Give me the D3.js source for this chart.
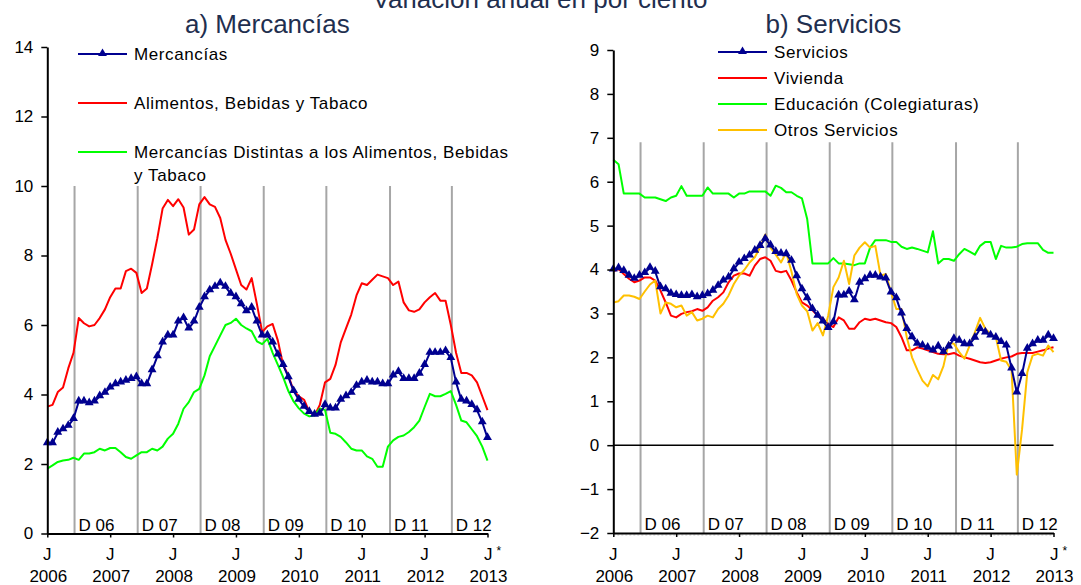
<html>
<head>
  <meta charset="utf-8">
  <title>Variación anual en por ciento</title>
  <script src="https://cdn.jsdelivr.net/npm/d3@7"></script>
  <style>
    body { margin: 0; background: #fff; }
    text { font-family: "Liberation Sans", Arial, sans-serif; }
  </style>
</head>
<body>
<script>
// Etiquetas del eje x (enero de cada año) y separadores verticales
const mesLabels = ["J", "J", "J", "J", "J", "J", "J", "J *"];
const anioLabels = ["2006", "2007", "2008", "2009", "2010", "2011", "2012", "2013"];
const sepLabels = ["D 06", "D 07", "D 08", "D 09", "D 10", "D 11", "D 12"];
const sepMeses = [5.2, 17.25, 29.25, 41.3, 53.25, 65.4, 77.2]; // meses desde ene-2006

// a) Mercancías, ene-2006 a ene-2013 (85 meses)
const mercancias = [
  2.6, 2.6, 2.9, 3.0, 3.1, 3.3, 3.8, 3.8, 3.75, 3.8, 3.95, 4.05,
  4.2, 4.3, 4.35, 4.4, 4.45, 4.5, 4.3, 4.3, 4.7, 5.1, 5.5, 5.7,
  5.7, 6.1, 6.2, 5.9, 6.1, 6.5, 6.8, 7.0, 7.1, 7.2, 7.1, 6.9,
  6.8, 6.6, 6.4, 6.5, 6.1, 5.7, 5.7, 5.5, 5.15, 4.85, 4.5, 4.1,
  3.85, 3.65, 3.5, 3.42, 3.45, 3.7, 3.6, 3.6, 3.85, 3.95, 4.05, 4.25,
  4.35, 4.4, 4.35, 4.35, 4.3, 4.3, 4.55, 4.65, 4.45, 4.45, 4.45, 4.6,
  4.85, 5.2, 5.2, 5.2, 5.25, 5.05, 4.35, 3.85, 3.8, 3.7, 3.55, 3.2,
  2.75
];
const alimentos = [
  3.65, 3.7, 4.07, 4.2, 4.75, 5.2, 6.2, 6.05, 5.96, 6.0, 6.2, 6.45,
  6.8, 7.05, 7.05, 7.55, 7.62, 7.5, 6.92, 7.05, 7.75, 8.5, 9.35, 9.6,
  9.42, 9.62, 9.38, 8.6, 8.75, 9.47, 9.68, 9.47, 9.4, 9.08, 8.45, 8.05,
  7.6, 7.15, 7.02, 7.35, 6.6, 5.8, 5.96, 6.03, 5.55, 4.85, 4.55, 4.1,
  3.95, 3.85, 3.5, 3.4, 3.7, 4.35, 4.45, 4.85, 5.5, 5.9, 6.3, 6.85,
  7.2, 7.15, 7.3, 7.45, 7.4, 7.35, 7.15, 7.25, 6.65, 6.42, 6.38, 6.45,
  6.65, 6.8, 6.92, 6.7, 6.7, 6.0, 5.2, 4.62, 4.62, 4.55, 4.35, 3.95,
  3.55
];
const otrasMercancias = [
  1.87, 1.96, 2.06, 2.1, 2.12, 2.18, 2.12, 2.3, 2.3, 2.34, 2.44, 2.39,
  2.46, 2.46, 2.34, 2.2, 2.15, 2.25, 2.34, 2.34, 2.44, 2.39, 2.5, 2.73,
  2.87, 3.16, 3.59, 3.78, 4.07, 4.16, 4.55, 5.1, 5.4, 5.7, 6.0, 6.06,
  6.18, 6.0, 5.9, 5.82, 5.53, 5.45, 5.6, 5.2, 4.85, 4.5, 4.1, 3.8,
  3.6, 3.45, 3.37, 3.4, 3.6, 3.55, 2.9, 2.87, 2.78, 2.62, 2.44, 2.39,
  2.39, 2.22, 2.15, 1.92, 1.92, 2.5, 2.68, 2.78, 2.82, 2.92, 3.06, 3.25,
  3.64, 4.02, 3.95, 3.95, 4.02, 4.1, 3.7, 3.25, 3.2, 3.0, 2.8, 2.5,
  2.1
];

// b) Servicios
const servicios = [
  4.0, 4.03, 3.97, 3.86, 3.79, 3.86, 3.92, 4.04, 3.95, 3.6, 3.55, 3.45,
  3.42, 3.4, 3.4, 3.42, 3.37, 3.4, 3.44, 3.52, 3.63, 3.75, 3.82, 4.01,
  4.16, 4.24, 4.32, 4.43, 4.54, 4.7, 4.55, 4.4, 4.36, 4.35, 4.2, 3.85,
  3.55, 3.35, 3.1, 2.95, 2.82, 2.67, 2.8, 3.41, 3.41, 3.5, 3.3, 3.7,
  3.78, 3.86, 3.86, 3.82, 3.8, 3.48, 3.35, 3.0, 2.65, 2.46, 2.31, 2.27,
  2.22, 2.16, 2.25, 2.12, 2.25, 2.42, 2.38, 2.3, 2.3, 2.45, 2.65, 2.57,
  2.5, 2.45, 2.35, 2.27, 1.75, 1.2, 1.62, 2.2, 2.3, 2.38, 2.38, 2.5,
  2.42
];
const vivienda = [
  3.96, 4.01, 3.9, 3.79, 3.71, 3.75, 3.82, 3.82, 3.75, 3.52, 3.25, 2.95,
  2.91, 2.99, 3.03, 3.05, 3.1, 3.06, 3.14, 3.29, 3.37, 3.48, 3.71, 3.86,
  3.91, 3.91, 3.86, 4.09, 4.24, 4.28, 4.2, 3.97, 3.94, 3.97, 3.75, 3.48,
  3.25, 3.18, 3.07, 2.95, 2.88, 2.76, 2.69, 2.91, 2.84, 2.65, 2.65, 2.8,
  2.88, 2.85, 2.88, 2.84, 2.8, 2.78, 2.69, 2.46, 2.16, 2.16, 2.23, 2.2,
  2.16, 2.12, 2.08, 2.07, 2.07, 2.1, 2.04, 2.0, 1.97, 1.93, 1.89, 1.87,
  1.89, 1.93, 1.97, 2.0, 2.02, 2.08, 2.1, 2.1, 2.1, 2.13, 2.16, 2.2,
  2.23
];
const educacion = [
  6.5, 6.4, 5.73, 5.73, 5.73, 5.73, 5.64, 5.64, 5.64, 5.6, 5.56, 5.64,
  5.68, 5.9, 5.68, 5.68, 5.68, 5.68, 5.87, 5.73, 5.73, 5.73, 5.73, 5.64,
  5.73, 5.73, 5.78, 5.78, 5.78, 5.78, 5.68, 5.91, 5.86, 5.76, 5.76, 5.68,
  5.62, 5.15, 4.14, 4.14, 4.14, 4.14, 4.26, 4.14, 4.14, 4.12, 4.1, 4.14,
  4.14, 4.5, 4.67, 4.67, 4.67, 4.63, 4.63, 4.52, 4.47, 4.5, 4.47, 4.43,
  4.39, 4.87, 4.14, 4.24, 4.24, 4.2, 4.35, 4.47, 4.41, 4.34, 4.54, 4.63,
  4.63, 4.24, 4.54, 4.5, 4.5, 4.52, 4.58, 4.6, 4.6, 4.6, 4.45, 4.38,
  4.38
];
const otrosServicios = [
  3.25, 3.28, 3.41, 3.41, 3.38, 3.33, 3.5, 3.66, 3.75, 3.0, 3.25, 3.22,
  3.14, 3.18, 2.95, 3.03, 2.84, 2.88, 2.95, 2.91, 3.1, 3.22, 3.41, 3.67,
  3.86, 3.99, 4.16, 4.28, 4.5, 4.8, 4.5, 4.34, 4.16, 4.39, 3.95, 3.44,
  3.18, 3.05, 2.61, 2.78, 2.5, 2.95, 3.6, 3.82, 4.2, 3.67, 4.32, 4.5,
  4.62, 4.5, 4.54, 3.86, 3.9, 3.48, 3.1, 3.1, 2.46, 2.0, 1.72, 1.47,
  1.34, 1.6, 1.5, 1.8, 2.33, 2.31, 2.12, 1.97, 2.27, 2.57, 2.9, 2.65,
  2.53, 2.46, 1.93, 1.9, 1.7, -0.67, 0.36, 1.66, 2.04, 2.08, 2.04, 2.27,
  2.12
];

const w = 1081;
const h = 585;
const azul = "#000090", rojo = "#ff0000", verde = "#00ff00", naranja = "#ffc000";
const gris = "#a6a6a6";

const svg = d3.select("body").append("svg")
  .attr("width", w)
  .attr("height", h);

// Título general (cortado arriba, como en el original)
svg.append("text")
  .attr("x", 540).attr("y", 8)
  .attr("text-anchor", "middle")
  .attr("font-size", "26px")
  .attr("fill", "#1f2f4f")
  .text("Variación anual en por ciento");

function panel(cfg) {
  const x = d3.scaleLinear().domain([0, 84]).range([cfg.x0, cfg.x1]);
  const y = d3.scaleLinear().domain(cfg.dom).range([cfg.yb, cfg.yt]);
  const g = svg.append("g");

  // título del panel
  g.append("text")
    .attr("x", (cfg.x0 + cfg.x1) / 2).attr("y", 33)
    .attr("text-anchor", "middle")
    .attr("font-size", "26px")
    .attr("fill", "#1f2f4f")
    .text(cfg.titulo);

  // líneas verticales grises (D xx)
  g.selectAll("line.sep")
    .data(sepMeses)
    .enter()
    .append("line")
    .attr("class", "sep")
    .attr("x1", d => x(d)).attr("x2", d => x(d))
    .attr("y1", y(cfg.sepTop)).attr("y2", cfg.yb)
    .attr("stroke", gris)
    .attr("stroke-width", 2);

  g.selectAll("text.sep")
    .data(sepLabels)
    .enter()
    .append("text")
    .attr("class", "sep")
    .attr("x", (d, i) => x(sepMeses[i]) + 4)
    .attr("y", cfg.yb - 3)
    .attr("font-size", "17px")
    .attr("fill", "#000")
    .text(d => d);

  // línea en cero (solo servicios)
  if (cfg.dom[0] < 0) {
    g.append("line")
      .attr("x1", cfg.x0).attr("x2", cfg.x1)
      .attr("y1", y(0)).attr("y2", y(0))
      .attr("stroke", "#000").attr("stroke-width", 1.5);
    g.append("line")
      .attr("x1", cfg.x0).attr("x2", cfg.x1)
      .attr("y1", cfg.yb + 2).attr("y2", cfg.yb + 2)
      .attr("stroke", "#c8c8c8").attr("stroke-width", 1)
      .attr("stroke-dasharray", "2,2");
  }

  // series
  const linea = d3.line()
    .x((d, i) => x(i))
    .y(d => y(d));

  cfg.series.forEach(s => {
    g.append("path")
      .datum(s.datos)
      .attr("d", linea)
      .attr("fill", "none")
      .attr("stroke", s.color)
      .attr("stroke-width", 2)
      .attr("stroke-linejoin", "round");
    if (s.marca) {
      g.selectAll("path.tri" + s.nombre.length)
        .data(s.datos)
        .enter()
        .append("path")
        .attr("d", d3.symbol(d3.symbolTriangle, 34))
        .attr("transform", (d, i) => "translate(" + x(i) + "," + (y(d) - 0.5) + ")")
        .attr("fill", s.color);
    }
  });

  // ejes
  const yAxis = d3.axisLeft(y)
    .tickValues(cfg.ticks)
    .tickFormat(d3.format("d"))
    .tickSize(6)
    .tickSizeOuter(0)
    .tickPadding(8);
  const ga = g.append("g")
    .attr("transform", "translate(" + cfg.x0 + ",0)")
    .call(yAxis);
  ga.select(".domain").attr("stroke-width", 2);
  ga.selectAll(".tick line").attr("stroke-width", 1.5);
  ga.selectAll("text").attr("font-size", "17px").attr("fill", "#000")
    .attr("font-family", "Liberation Sans, Arial, sans-serif");

  const xAxis = d3.axisBottom(x)
    .tickValues(d3.range(0, 85, 12))
    .tickFormat("")
    .tickSize(4)
    .tickSizeOuter(0);
  const gx = g.append("g")
    .attr("transform", "translate(0," + cfg.yb + ")")
    .call(xAxis);
  gx.select(".domain").attr("stroke-width", 2);
  gx.selectAll(".tick line").attr("stroke-width", 1.5);

  // etiquetas J / año
  const xt = g.selectAll("g.xl")
    .data(anioLabels)
    .enter()
    .append("g")
    .attr("class", "xl");
  xt.append("text")
    .attr("x", (d, i) => x(i * 12))
    .attr("y", 560)
    .attr("text-anchor", "middle")
    .attr("font-size", "17px")
    .each(function(d, i) {
      const t = d3.select(this);
      const lab = mesLabels[i];
      if (lab.indexOf("*") >= 0) {
        t.attr("x", x(i * 12) + 5);
        t.append("tspan").text("J");
        t.append("tspan").attr("font-size", "12px").attr("dy", -5).attr("dx", 4).text("*");
      } else {
        t.text(lab);
      }
    });
  xt.append("text")
    .attr("x", (d, i) => x(i * 12) + 1)
    .attr("y", 582)
    .attr("text-anchor", "middle")
    .attr("font-size", "17px")
    .text(d => d);

  // leyenda
  cfg.leyenda.forEach(l => {
    g.append("line")
      .attr("x1", cfg.lx).attr("x2", cfg.lx + 49)
      .attr("y1", l.y).attr("y2", l.y)
      .attr("stroke", l.color).attr("stroke-width", 2);
    if (l.marca) {
      g.append("path")
        .attr("d", d3.symbol(d3.symbolTriangle, 34))
        .attr("transform", "translate(" + (cfg.lx + 24.5) + "," + (l.y - 0.5) + ")")
        .attr("fill", l.color);
    }
    const t = g.append("text")
      .attr("x", cfg.lx + 56)
      .attr("y", l.y + 6)
      .attr("font-size", "17px")
      .attr("letter-spacing", "0.6px")
      .attr("fill", "#000");
    l.texto.forEach((s, k) => {
      t.append("tspan").attr("x", cfg.lx + 56).attr("dy", k === 0 ? 0 : 23).text(s);
    });
  });
}

panel({
  titulo: "a) Mercancías",
  x0: 47.3, x1: 487.5, yt: 47, yb: 533.5,
  dom: [0, 14], ticks: d3.range(0, 15, 2), sepTop: 10,
  series: [
    { nombre: "a", datos: alimentos, color: rojo },
    { nombre: "ab", datos: otrasMercancias, color: verde },
    { nombre: "abc", datos: mercancias, color: azul, marca: true }
  ],
  lx: 78,
  leyenda: [
    { y: 54, color: azul, marca: true, texto: ["Mercancías"] },
    { y: 103, color: rojo, texto: ["Alimentos, Bebidas y Tabaco"] },
    { y: 152, color: verde, texto: ["Mercancías Distintas a los Alimentos, Bebidas", "y Tabaco"] }
  ]
});

panel({
  titulo: "b) Servicios",
  x0: 613.3, x1: 1053.5, yt: 50, yb: 533,
  dom: [-2, 9], ticks: d3.range(-2, 10, 1), sepTop: 6.9,
  series: [
    { nombre: "a", datos: educacion, color: verde },
    { nombre: "ab", datos: vivienda, color: rojo },
    { nombre: "abc", datos: otrosServicios, color: naranja },
    { nombre: "abcd", datos: servicios, color: azul, marca: true }
  ],
  lx: 718,
  leyenda: [
    { y: 52, color: azul, marca: true, texto: ["Servicios"] },
    { y: 78, color: rojo, texto: ["Vivienda"] },
    { y: 104, color: verde, texto: ["Educación (Colegiaturas)"] },
    { y: 130, color: naranja, texto: ["Otros Servicios"] }
  ]
});
</script>
</body>
</html>
